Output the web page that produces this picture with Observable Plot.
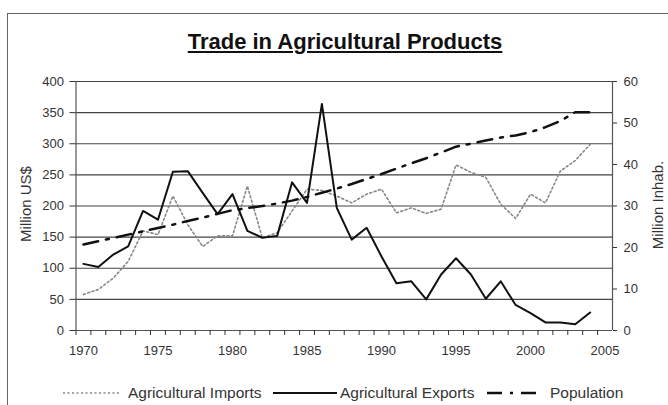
<!DOCTYPE html>
<html><head><meta charset="utf-8">
<script src="https://cdn.jsdelivr.net/npm/d3@7"></script>
<script src="https://cdn.jsdelivr.net/npm/@observablehq/plot@0.6"></script>
<style>
body{margin:0;background:#fff;font-family:"Liberation Sans",Arial,sans-serif;}
#wrap{position:relative;width:668px;height:405px;overflow:hidden;background:#fff;}
#border{position:absolute;left:7px;top:13px;width:720px;height:440px;border-left:1.5px solid #666;border-top:1.5px solid #666;}
#title{position:absolute;top:29px;left:0;width:690px;text-align:center;font-weight:bold;font-size:22px;text-decoration:underline;color:#111;}
#chart{position:absolute;left:0;top:60px;}
.ytitle{position:absolute;font-size:15px;color:#333;white-space:nowrap;transform:translate(-50%,-50%) rotate(-90deg);}
.leg{position:absolute;top:384px;font-size:15.5px;line-height:18px;color:#333;white-space:nowrap;}
.legsw{position:absolute;top:385px;}
</style></head>
<body><div id="wrap">
<div id="border"></div>
<div id="title">Trade in Agricultural Products</div>
<div id="chart"></div>
<div class="ytitle" style="left:25px;top:204px;">Million US$</div>
<div class="ytitle" style="left:657px;top:205px;">Million Inhab.</div>
<svg class="legsw" style="left:63px" width="60" height="16"><line x1="0" y1="8" x2="57" y2="8" stroke="#888" stroke-width="1.6" stroke-dasharray="2,2.5"/></svg>
<div class="leg" style="left:128px">Agricultural Imports</div>
<svg class="legsw" style="left:273px" width="66" height="16"><line x1="0" y1="8" x2="64" y2="8" stroke="#111" stroke-width="2"/></svg>
<div class="leg" style="left:340px">Agricultural Exports</div>
<svg class="legsw" style="left:487px" width="58" height="16"><line x1="0" y1="8" x2="56" y2="8" stroke="#111" stroke-width="2.5" stroke-dasharray="15,8,3,8"/></svg>
<div class="leg" style="left:550px">Population</div>
</div>
<script>
const years = [1970,1971,1972,1973,1974,1975,1976,1977,1978,1979,1980,1981,1982,1983,1984,1985,1986,1987,1988,1989,1990,1991,1992,1993,1994,1995,1996,1997,1998,1999,2000,2001,2002,2003,2004];
const imports = [58,66,84,111,160,154,216,170,135,152,152,232,149,157,192,227,225,216,205,219,227,189,197,188,195,266,254,246,203,180,219,205,256,273,299];
const exports = [107,102,122,135,192,178,255,256,221,187,219,160,149,152,238,205,364,197,146,165,119,76,79,50,90,116,90,51,79,41,28,13,13,10,29];
const population = [20.7,21.5,22.3,23.1,23.9,24.7,25.5,26.4,27.2,28.1,29.0,29.5,30.0,30.6,31.3,32.2,33.2,34.2,35.3,36.5,37.7,39.0,40.3,41.5,42.9,44.3,45.0,45.8,46.5,47.0,47.8,49.0,50.5,52.6,52.6];
const leftTicks = [0,50,100,150,200,250,300,350,400];
const rightTicks = [0,10,20,30,40,50,60];
const xLabels = [1970,1975,1980,1985,1990,1995,2000,2005];

const leftMax = 400, rightMax = 60;
const toLeft = v => v * leftMax / rightMax;
const xDomain = [1969.5, 2005.5];
const xBounds = [...years, 2005].map(y => y - 0.5);
const rows = years.map((year, i) => ({year, imports: imports[i], exports: exports[i], pop: toLeft(population[i])}));

const chart = Plot.plot({
  width: 668, height: 310,
  marginLeft: 75.5, marginRight: 56, marginTop: 21, marginBottom: 40,
  x: {domain: xDomain, axis: null},
  y: {domain: [0, leftMax], axis: null},
  style: {fontFamily: "Liberation Sans, Arial, sans-serif", fontSize: "13px", color: "#333", background: "transparent", overflow: "visible"},
  marks: [
    Plot.gridY(leftTicks, {stroke: "#444", strokeOpacity: 1, strokeWidth: 1.2}),
    Plot.ruleY([0], {stroke: "#555", strokeWidth: 1.2}),
    Plot.ruleX(xDomain, {stroke: "#555", strokeWidth: 1.2}),
    Plot.axisY(leftTicks, {anchor: "left", label: null, tickSize: 6, tickPadding: 6, fontSize: 13, tickFormat: d => String(d)}),
    Plot.axisY(rightTicks.map(toLeft), {anchor: "right", label: null, tickSize: 4, tickPadding: 7, fontSize: 13, tickFormat: d => String(Math.round(d * rightMax / leftMax))}),
    Plot.axisX(xBounds, {anchor: "bottom", label: null, tickSize: 5, tickFormat: () => ""}),
    Plot.axisX(xLabels, {anchor: "bottom", label: null, tickSize: 0, tickPadding: 15, fontSize: 13, tickFormat: d => String(d)}),
    Plot.lineY(rows, {x: "year", y: "imports", stroke: "#888", strokeWidth: 1.6, strokeDasharray: "2,2.5"}),
    Plot.lineY(rows, {x: "year", y: "exports", stroke: "#111", strokeWidth: 2}),
    Plot.lineY(rows, {x: "year", y: "pop", stroke: "#111", strokeWidth: 2.5, strokeDasharray: "15,8,3,8"})
  ]
});
document.getElementById("chart").appendChild(chart);
</script>
</body></html>
